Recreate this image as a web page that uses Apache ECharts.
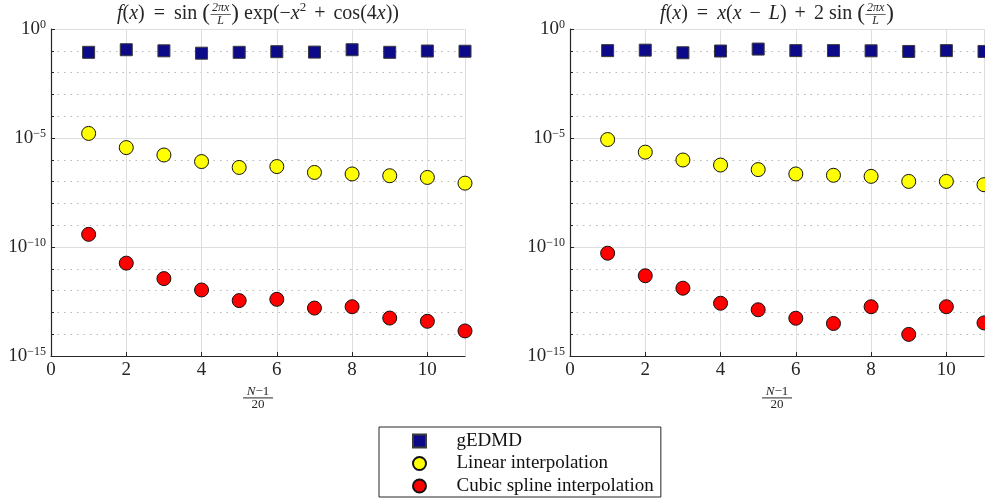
<!DOCTYPE html>
<html>
<head>
<meta charset="utf-8">
<script src="https://cdn.jsdelivr.net/npm/echarts@6/dist/echarts.min.js"></script>
<style>html,body{margin:0;padding:0;background:#fff;}#c{width:985px;height:502px;}</style>
</head>
<body>
<div id="c"></div>
<script>
// ---- data ----
const xValues = [1, 2, 3, 4, 5, 6, 7, 8, 9, 10, 11];
const leftGEDMD = [0.0851, 0.112, 0.100, 0.0776, 0.0851, 0.0912, 0.0871, 0.112, 0.0851, 0.0977, 0.0955];
const leftLinear = [1.62e-5, 3.63e-6, 1.66e-6, 8.3e-7, 4.47e-7, 4.9e-7, 2.63e-7, 2.24e-7, 1.86e-7, 1.55e-7, 8.5e-8];
const leftCubic = [3.8e-10, 1.82e-11, 3.55e-12, 1.07e-12, 3.47e-13, 3.98e-13, 1.58e-13, 1.82e-13, 5.5e-14, 3.9e-14, 1.41e-14];
const rightGEDMD = [0.102, 0.107, 0.0813, 0.0977, 0.120, 0.102, 0.102, 0.100, 0.0933, 0.102, 0.0933];
const rightLinear = [8.5e-6, 2.24e-6, 9.8e-7, 5.75e-7, 3.55e-7, 2.24e-7, 1.95e-7, 1.74e-7, 1.02e-7, 1.02e-7, 7.2e-8];
const rightCubic = [5.2e-11, 4.8e-12, 1.29e-12, 2.63e-13, 1.32e-13, 5.4e-14, 3.1e-14, 1.82e-13, 9.8e-15, 1.82e-13, 3.3e-14];
const seriesNames = ['gEDMD', 'Linear interpolation', 'Cubic spline interpolation'];
const xTickValues = [0, 2, 4, 6, 8, 10];
const yTickExponents = [0, -5, -10, -15];

// ---- layout / style ----
const FONT = 'Liberation Serif';
const grids = [
  { left: 51, top: 29, width: 414, height: 327 },
  { left: 570, top: 29, width: 414, height: 327 }
];
const AX = '#262626';

function pairs(arr) { return arr.map((v, i) => [xValues[i], v]); }

const xAxes = [], yAxes = [], series = [];
grids.forEach((g, gi) => {
  xAxes.push({
    gridIndex: gi, type: 'value', min: 0, max: 11, interval: 2, position: 'bottom',
    axisLine: { show: true, onZero: false, lineStyle: { color: AX, width: 1.2 } },
    axisTick: { show: true, inside: true, length: 4, lineStyle: { color: AX } },
    axisLabel: { showMaxLabel: false, color: '#262626', fontFamily: FONT, fontSize: 19, margin: 5,
      formatter: v => xTickValues.indexOf(v) >= 0 ? String(v) : '' },
    splitLine: { show: true, lineStyle: { color: '#dedede', width: 1 } },
    name: '{n|N}{m|−1}\n{hr|}\n{d|20}',
    nameLocation: 'middle', nameGap: 21,
    nameTextStyle: {
      fontFamily: FONT, color: '#262626', align: 'center',
      rich: {
        n: { fontFamily: FONT, fontStyle: 'italic', fontSize: 13, color: '#262626', lineHeight: 11 },
        m: { fontFamily: FONT, fontSize: 13, color: '#262626', lineHeight: 11 },
        hr: { width: 30, height: 0, borderColor: '#262626', borderWidth: 0.6, lineHeight: 2 },
        d: { fontFamily: FONT, fontSize: 13, color: '#262626', lineHeight: 11 }
      }
    }
  });
  // dotted decade grid (minor)
  yAxes.push({
    gridIndex: gi, type: 'log', logBase: 10, min: 1e-15, max: 1, interval: 1, position: 'left',
    axisLine: { show: false },
    axisTick: { show: true, inside: true, length: 3, lineStyle: { color: AX } },
    axisLabel: { show: false },
    splitLine: { show: true, lineStyle: { color: '#b8b8b8', type: [1.5, 5], width: 1 } }
  });
  // major labelled axis
  yAxes.push({
    gridIndex: gi, type: 'log', logBase: 10, min: 1e-15, max: 1, interval: 5, position: 'left',
    axisLine: { show: true, lineStyle: { color: AX, width: 1.2 } },
    axisTick: { show: true, inside: true, length: 4, lineStyle: { color: AX } },
    splitLine: { show: true, lineStyle: { color: '#dedede', width: 1 } },
    axisLabel: {
      margin: 5, fontFamily: FONT, color: '#262626',
      formatter: v => {
        const e = Math.round(Math.log10(v));
        if (yTickExponents.indexOf(e) < 0) return '';
        return '{b|10}{s|' + (e === 0 ? '0' : '−' + (-e)) + '}';
      },
      rich: {
        b: { fontFamily: FONT, fontSize: 19, color: '#262626', lineHeight: 20, verticalAlign: 'bottom' },
        s: { fontFamily: FONT, fontSize: 12, color: '#262626', lineHeight: 20, verticalAlign: 'top' }
      }
    }
  });
  const sets = gi === 0 ? [leftGEDMD, leftLinear, leftCubic] : [rightGEDMD, rightLinear, rightCubic];
  const styles = [
    { symbol: 'rect', symbolSize: 12, itemStyle: { color: '#0d0a8a', borderColor: '#3a3a3a', borderWidth: 1, opacity: 1 } },
    { symbol: 'circle', symbolSize: 14, itemStyle: { color: '#ffff00', borderColor: '#111', borderWidth: 1, opacity: 1 } },
    { symbol: 'circle', symbolSize: 14, itemStyle: { color: '#ff0000', borderColor: '#111', borderWidth: 1, opacity: 1 } }
  ];
  sets.forEach((d, si) => {
    series.push(Object.assign({
      type: 'scatter', name: seriesNames[si], xAxisIndex: gi, yAxisIndex: gi * 2 + 1,
      data: pairs(d), clip: false, emphasis: { disabled: true }, z: 3 + si
    }, styles[si]));
  });
});

// ---- titles built from text pieces (math spacing in em) ----
const ctx = document.createElement('canvas').getContext('2d');
function meas(t, size, italic) { ctx.font = (italic ? 'italic ' : '') + size + 'px "' + FONT + '"'; return ctx.measureText(t).width; }
const TS = 20;
const THICK = 0.45, MED = 0.4, THIN = 0.25;
const leftTitle = [
  { t: 'f', i: 1 }, { t: '(' }, { t: 'x', i: 1 }, { t: ')', g: THICK }, { t: '=', g: THICK }, { t: 'sin', g: THIN },
  { t: '(', s: 23 }, { frac: ['2πx', 'L'] }, { t: ')', s: 23, g: THIN }, { t: 'exp(−' }, { t: 'x', i: 1 },
  { t: '2', s: 13, up: 1, g: MED }, { t: '+', g: MED }, { t: 'cos(4' }, { t: 'x', i: 1 }, { t: '))' }
];
const rightTitle = [
  { t: 'f', i: 1 }, { t: '(' }, { t: 'x', i: 1 }, { t: ')', g: THICK }, { t: '=', g: THICK }, { t: 'x', i: 1 },
  { t: '(' }, { t: 'x', i: 1, g: MED }, { t: '−', g: MED }, { t: 'L', i: 1 }, { t: ')', g: MED },
  { t: '+', g: MED }, { t: '2', g: THIN }, { t: 'sin', g: THIN }, { t: '(', s: 23 }, { frac: ['2πx', 'L'] }, { t: ')', s: 23 }
];
function buildTitle(pieces, cx, midY) {
  const FS = 12;
  pieces.forEach(p => {
    if (p.frac) { p.w = Math.max(meas(p.frac[0], FS, true), meas(p.frac[1], FS, true)) + 4; }
    else { p.w = meas(p.t, p.s || TS, p.i); }
    p.w += (p.g || 0) * TS;
  });
  const total = pieces.reduce((a, p) => a + p.w, 0);
  let x = cx - total / 2;
  const els = [];
  pieces.forEach(p => {
    if (p.frac) {
      const fw = p.w;
      const mx = x + fw / 2;
      els.push({ type: 'text', x: mx, y: midY - 6, style: { text: p.frac[0], font: 'italic ' + FS + 'px "' + FONT + '"', fill: '#262626', align: 'center', verticalAlign: 'middle' } });
      els.push({ type: 'line', shape: { x1: x + 0.5, y1: midY + 0.5, x2: x + fw - 0.5, y2: midY + 0.5 }, style: { stroke: '#262626', lineWidth: 0.7 } });
      els.push({ type: 'text', x: mx, y: midY + 7, style: { text: p.frac[1], font: 'italic ' + FS + 'px "' + FONT + '"', fill: '#262626', align: 'center', verticalAlign: 'middle' } });
    } else {
      const sz = p.s || TS;
      els.push({ type: 'text', x: x, y: midY + (p.up ? -6 : 0), style: { text: p.t, font: (p.i ? 'italic ' : '') + sz + 'px "' + FONT + '"', fill: '#262626', align: 'left', verticalAlign: 'middle' } });
    }
    x += p.w;
  });
  return els;
}
const graphics = [].concat(
  buildTitle(leftTitle, grids[0].left + grids[0].width / 2, 14),
  buildTitle(rightTitle, grids[1].left + grids[1].width / 2, 14)
);

const chart = echarts.init(document.getElementById('c'), null, { renderer: 'canvas' });
chart.setOption({
  animation: false,
  backgroundColor: '#fff',
  grid: grids.map(g => Object.assign({ containLabel: false, outerBoundsMode: 'none' }, g)),
  xAxis: xAxes,
  yAxis: yAxes,
  series: series,
  graphic: graphics,
  legend: {
    data: [
      { name: seriesNames[0], icon: 'path://M0,0L10,0L10,10L0,10Z' },
      { name: seriesNames[1] },
      { name: seriesNames[2] }
    ],
    orient: 'vertical', left: 379, top: 427, height: 75,
    itemWidth: 64, itemHeight: 13, itemGap: 0.5, symbolKeepAspect: true,
    padding: [3, 7, 0, 33],
    borderColor: '#262626', borderWidth: 1, backgroundColor: '#fff',
    selectedMode: false,
    textStyle: { fontFamily: FONT, fontSize: 19, color: '#111', lineHeight: 22 }
  }
});
</script>
</body>
</html>
